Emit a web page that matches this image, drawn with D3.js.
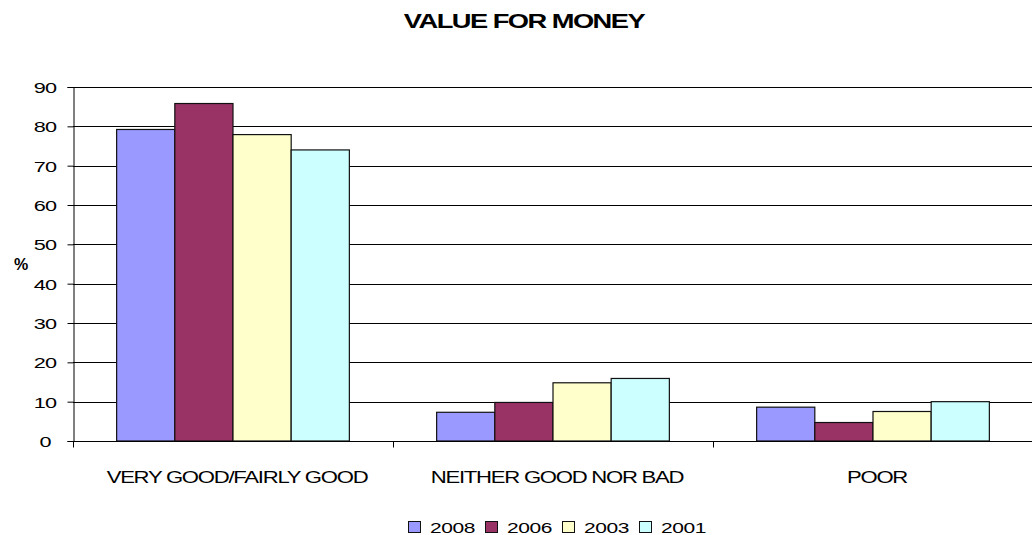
<!DOCTYPE html>
<html>
<head>
<meta charset="utf-8">
<script src="https://cdn.jsdelivr.net/npm/d3@7"></script>
<style>
  body { margin: 0; background: #fff; }
  text { font-family: "Liberation Sans", Arial, sans-serif; }
</style>
</head>
<body>
<div id="chart"></div>
<script>
const categories = ["VERY GOOD/FAIRLY GOOD", "NEITHER GOOD NOR BAD", "POOR"];
const seriesNames = ["2008", "2006", "2003", "2001"];
const values2008 = [79.2, 7.3, 8.6];
const values2006 = [85.8, 9.8, 4.7];
const values2003 = [77.9, 14.8, 7.5];
const values2001 = [74.0, 15.9, 10.0];
const yTicks = [0, 10, 20, 30, 40, 50, 60, 70, 80, 90];
const colors = ["#9999FF", "#993366", "#FFFFCC", "#CCFFFF"];

const seriesValues = [values2008, values2006, values2003, values2001];
const rows = categories.map((c, i) => ({
  cat: c,
  vals: seriesNames.map((s, j) => ({ key: s, value: seriesValues[j][i] }))
}));

const width = 1032, height = 535;
const margin = { top: 87, bottom: 94, left: 73, right: 0 };
const stretch = 1.4; // text in the original is stretched sideways

const svg = d3.select("#chart")
  .append("svg")
  .attr("width", width)
  .attr("height", height);

// helper: stretched text at (x, y)
function label(g, x, y, txt, size, anchor, spacing, bold) {
  return g.append("text")
    .attr("transform", `translate(${x},${y}) scale(${stretch},1)`)
    .attr("text-anchor", anchor)
    .style("font-size", size + "px")
    .style("letter-spacing", spacing + "px")
    .style("font-weight", bold ? "bold" : "normal")
    .text(txt);
}

// --- SCALES ---
const x0 = d3.scaleBand()
  .domain(categories)
  .range([margin.left, width - margin.right + 1])
  .padding(0);

const x1 = d3.scaleBand()
  .domain(seriesNames)
  .range([0, x0.bandwidth()])
  .paddingInner(0)
  .paddingOuter(0.75);

const y = d3.scaleLinear()
  .domain([0, 90])
  .range([height - margin.bottom, margin.top]);

const color = d3.scaleOrdinal().domain(seriesNames).range(colors);

// --- GRIDLINES ---
svg.append("g")
  .selectAll("line")
  .data(yTicks.filter(d => d > 0))
  .enter()
  .append("line")
  .attr("x1", margin.left)
  .attr("x2", width)
  .attr("y1", d => Math.round(y(d)) + 0.5)
  .attr("y2", d => Math.round(y(d)) + 0.5)
  .attr("stroke", "#000")
  .attr("stroke-width", 1);

// --- BARS ---
const groups = svg.selectAll(".group")
  .data(rows)
  .enter()
  .append("g")
  .attr("class", "group")
  .attr("transform", d => `translate(${x0(d.cat)},0)`);

groups.selectAll("rect")
  .data(d => d.vals)
  .enter()
  .append("rect")
  .attr("x", d => x1(d.key))
  .attr("y", d => y(d.value))
  .attr("width", x1.bandwidth())
  .attr("height", d => y(0) - y(d.value))
  .attr("fill", d => color(d.key))
  .attr("stroke", "#111")
  .attr("stroke-width", 1.2);

// --- Y AXIS ---
const yAxis = svg.append("g")
  .attr("transform", `translate(${margin.left + 0.5},0)`)
  .call(d3.axisLeft(y).tickValues(yTicks).tickSize(6).tickFormat(""));
yAxis.select(".domain").attr("stroke", "#000");

const yLab = svg.append("g");
yTicks.forEach(t => label(yLab, 45, y(t) + 6, t, 15.5, "middle", -0.6));

// --- X AXIS ---
const xAxis = svg.append("g")
  .attr("transform", `translate(0,${Math.round(y(0)) + 0.5})`);
xAxis.append("line")
  .attr("x1", margin.left)
  .attr("x2", width)
  .attr("stroke", "#000");
xAxis.selectAll(".tick")
  .data(categories.map(c => x0(c)).concat([width - 0.5]))
  .enter()
  .append("line")
  .attr("x1", d => Math.round(d) + 0.5)
  .attr("x2", d => Math.round(d) + 0.5)
  .attr("y1", 0)
  .attr("y2", 6)
  .attr("stroke", "#000");

categories.forEach(c => label(xAxis, x0(c) + x0.bandwidth() / 2 + 4, 41, c, 15.8, "middle", -0.9));

// --- TITLE ---
label(svg, 524, 28, "VALUE FOR MONEY", 19.5, "middle", -1.1, true);

// --- Y LABEL ---
svg.append("text")
  .attr("x", 21)
  .attr("y", 270)
  .attr("text-anchor", "middle")
  .style("font-size", "16px")
  .style("font-weight", "bold")
  .text("%");

// --- LEGEND ---
const legend = svg.append("g")
  .attr("transform", "translate(408,521)");

seriesNames.forEach((s, i) => {
  legend.append("rect")
    .attr("x", i * 77 + 0.5)
    .attr("y", 0.5)
    .attr("width", 12)
    .attr("height", 11)
    .attr("fill", color(s))
    .attr("stroke", "#111");
  label(legend, i * 77 + 22, 11.5, s, 15, "start", -0.3);
});
</script>
</body>
</html>
